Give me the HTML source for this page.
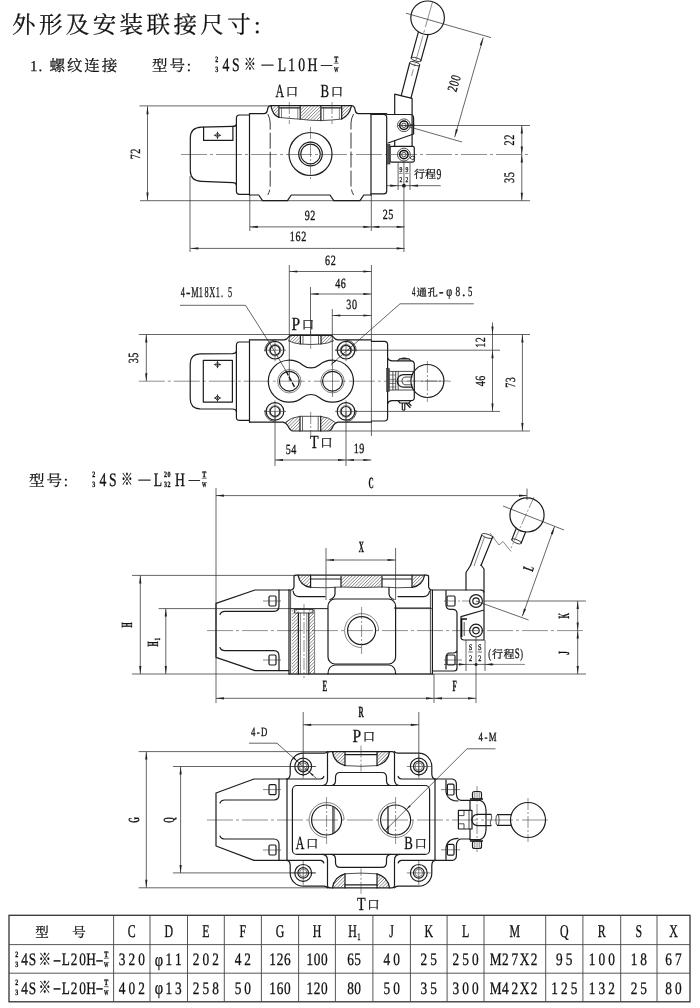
<!DOCTYPE html>
<html lang="zh"><head><meta charset="utf-8"><title>外形及安装联接尺寸</title><style>
html,body{margin:0;padding:0;background:#fff}
text{text-rendering:geometricPrecision}
svg{display:block;filter:grayscale(1)}
.o{fill:none;stroke:#1c1c1c;stroke-width:1.2;stroke-linecap:round;stroke-linejoin:round}
.o2{fill:none;stroke:#222;stroke-width:.8}
.ob{fill:none;stroke:#111;stroke-width:1.5}
.t{fill:none;stroke:#333;stroke-width:.75}
.t2{fill:none;stroke:#333;stroke-width:.6}
.sy{fill:none;stroke:#222;stroke-width:.85}
.c{fill:none;stroke:#444;stroke-width:.6;stroke-dasharray:26 3 3 3}
.dk{fill:none;stroke:#111;stroke-width:1.4;stroke-dasharray:5 1.5}
.c2{fill:none;stroke:#444;stroke-width:.6;stroke-dasharray:12 2 2 2}
.tb{fill:none;stroke:#444;stroke-width:.9}
.ds{fill:none;stroke:#222;stroke-width:.9;stroke-dasharray:16 3}
.h{stroke:#444;stroke-width:.65}
.a{fill:#222;stroke:none}
.d{font-family:"Liberation Serif","Noto Serif CJK SC",serif;fill:#111;stroke:#111;stroke-width:.3}
.b{font-weight:bold}
.kb{stroke:#111;stroke-width:.35}
.k{font-family:"Liberation Serif","Noto Serif CJK SC",serif;fill:#111;stroke:#111;stroke-width:.25}
</style></head><body>
<svg width="700" height="1008" viewBox="0 0 700 1008">
<rect x="0" y="0" width="700" height="1008" fill="#fff"/>
<!-- header text -->
<text class="k" x="12" y="33" font-size="23.5" letter-spacing="3.4">外形及安装联接尺寸:</text>
<text class="k" x="30" y="70.5" font-size="15" letter-spacing="1">1.</text>
<text class="k" x="49.5" y="70.5" font-size="15.5" letter-spacing="1.9">螺纹连接</text>
<text class="k" x="152" y="70.5" font-size="15.5" letter-spacing="1.9">型号:</text>
<text class="d" transform="translate(216.8 61.9) scale(0.75 1)" font-size="8" text-anchor="middle" font-weight="bold">2</text>
<text class="d" transform="translate(216.8 71.7) scale(0.75 1)" font-size="8" text-anchor="middle" font-weight="bold">3</text>
<text class="d" transform="translate(0 70.5) scale(0.72 1)" font-size="19" text-anchor="middle" ><tspan x="313.89 327.36">4S</tspan><tspan x="347.22" class="k kb" font-size="16.5" dy="-0.3">※</tspan><tspan x="371.53" class="k kb" font-size="16.5" dy="-0.9">—</tspan><tspan x="391.67 405.28 419.03 434.03" dy="1.2">L10H</tspan><tspan x="453.47" class="k kb" font-size="15.5" dy="-1.2">—</tspan></text>
<text class="d" transform="translate(336.2 61.9) scale(0.75 1)" font-size="8" text-anchor="middle" font-weight="bold">T</text>
<text class="d" transform="translate(336.2 71.7) scale(0.6 1)" font-size="7.5" text-anchor="middle" font-weight="bold">W</text>
<line class="t" x1="333.8" y1="63.2" x2="338.6" y2="63.2"/>
<!-- view 1 -->
<line class="t" x1="139.5" y1="105.9" x2="272" y2="105.9"/>
<line class="t" x1="140" y1="200.7" x2="530" y2="200.7"/>
<line class="t" x1="147.5" y1="106.25" x2="147.5" y2="200.5"/>
<polygon class="a" points="147.5,106.25 148.6,114.25 146.4,114.25"/>
<polygon class="a" points="147.5,200.5 146.4,192.5 148.6,192.5"/>
<text class="d" transform="translate(139.5 154) rotate(-90) scale(0.72 1)" font-size="14" text-anchor="middle"  letter-spacing="0.9" dx="0.45">72</text>
<line class="c" x1="181" y1="154.5" x2="530" y2="154.5"/>
<path class="o" d="M236.4,124.5 Q236,126.3 232.9,126.4 L201.5,127.1 Q190.3,127.5 190.3,138 V170.5 Q190.3,181 201.5,181.4 L232.9,182.6 Q236,182.8 236.4,185" />
<line class="t" x1="190" y1="176" x2="190" y2="252"/>
<path class="o" d="M203.6,127.2 V140.4 H232.9 V126.4" />
<path class="sy" d="M217.5,132.7 L219.9,135.3 L217.5,137.9 L215.1,135.3 Z M213.9,135.3 H221.1 M217.5,131.7 V138.9" />
<path class="o" d="M249.5,115 H239.5 Q236.4,115 236.4,118.2 V191 Q236.4,194.3 239.5,194.3 H249.5" />
<line class="o" x1="249.5" y1="113.75" x2="249.5" y2="195"/>
<path class="o" d="M249.5,113.6 H264.3 Q266.6,113.5 267.2,111 L267.9,108 Q268.5,105.7 271,105.6 H351.6 Q354,105.7 354.7,108 L355.4,111 Q356,113.5 358.3,113.6 H386.7" />
<path class="o" d="M249.5,195 H258.75 L262.5,200.6 H287.5 L291.25,195 H330 L333.75,200.6 H360 L363.75,195 H371" />
<line class="o" x1="371" y1="113.6" x2="371" y2="195"/>
<clipPath id="c1a"><path d="M271,105.6 H278.9 V117.4 Q272.6,115.3 271,105.6 Z"/></clipPath>
<clipPath id="c1b"><path d="M300.2,105.6 H320.9 V120.6 Q310,120.6 300.2,119.2 Z"/></clipPath>
<clipPath id="c1c"><path d="M341.7,105.6 H351.4 Q349.5,115.5 341.7,119 Z"/></clipPath>
<g clip-path="url(#c1a)">
<line class="h" x1="257" y1="118" x2="270" y2="105"/>
<line class="h" x1="260.3" y1="118" x2="273.3" y2="105"/>
<line class="h" x1="263.6" y1="118" x2="276.6" y2="105"/>
<line class="h" x1="266.9" y1="118" x2="279.9" y2="105"/>
<line class="h" x1="270.2" y1="118" x2="283.2" y2="105"/>
<line class="h" x1="273.5" y1="118" x2="286.5" y2="105"/>
<line class="h" x1="276.8" y1="118" x2="289.8" y2="105"/>
</g>
<g clip-path="url(#c1b)">
<line class="h" x1="283" y1="121" x2="299" y2="105"/>
<line class="h" x1="286.3" y1="121" x2="302.3" y2="105"/>
<line class="h" x1="289.6" y1="121" x2="305.6" y2="105"/>
<line class="h" x1="292.9" y1="121" x2="308.9" y2="105"/>
<line class="h" x1="296.2" y1="121" x2="312.2" y2="105"/>
<line class="h" x1="299.5" y1="121" x2="315.5" y2="105"/>
<line class="h" x1="302.8" y1="121" x2="318.8" y2="105"/>
<line class="h" x1="306.1" y1="121" x2="322.1" y2="105"/>
<line class="h" x1="309.4" y1="121" x2="325.4" y2="105"/>
<line class="h" x1="312.7" y1="121" x2="328.7" y2="105"/>
<line class="h" x1="316" y1="121" x2="332" y2="105"/>
<line class="h" x1="319.3" y1="121" x2="335.3" y2="105"/>
</g>
<g clip-path="url(#c1c)">
<line class="h" x1="325" y1="120" x2="340" y2="105"/>
<line class="h" x1="328.3" y1="120" x2="343.3" y2="105"/>
<line class="h" x1="331.6" y1="120" x2="346.6" y2="105"/>
<line class="h" x1="334.9" y1="120" x2="349.9" y2="105"/>
<line class="h" x1="338.2" y1="120" x2="353.2" y2="105"/>
<line class="h" x1="341.5" y1="120" x2="356.5" y2="105"/>
<line class="h" x1="344.8" y1="120" x2="359.8" y2="105"/>
<line class="h" x1="348.1" y1="120" x2="363.1" y2="105"/>
<line class="h" x1="351.4" y1="120" x2="366.4" y2="105"/>
</g>
<path class="o" d="M271,105.8 Q272.6,115.3 278.9,117.4 M351.4,105.8 Q349.5,115.5 341.7,119" />
<path class="o" d="M278.9,105.6 V117.4 M300.2,105.6 V119.2 M320.9,105.6 V120.6 M341.7,105.6 V119" />
<path class="o2" d="M278.9,117.4 Q290,118.6 300.2,119.2 Q310,120.6 320.9,120.6 Q332,120.2 341.7,119" />
<path class="o" d="M279.6,107.8 H299.6 M321.6,107.8 H341" />
<path class="t2" d="M281.5,107.8 V117.8 M297.8,107.8 V119 M323.6,107.8 V120.4 M339.4,107.8 V119.2" />
<line class="c2" x1="289.3" y1="102" x2="289.3" y2="124"/>
<line class="c2" x1="332" y1="102" x2="332" y2="124"/>
<path class="ds" d="M267.8,114 Q270,118 270.2,123 V186 Q270,191 267.8,195" />
<path class="ds" d="M353.6,114 Q351.2,118 351,123 V186 Q351.2,191 353.6,195" />
<circle class="o" cx="310.5" cy="154" r="21.5"/>
<circle class="o" cx="310.5" cy="154" r="11.8"/>
<circle class="o" cx="310.5" cy="154" r="9.8"/>
<path class="c2" d="M310.5,127 V181" />
<text class="d" x="275.6" y="97" font-size="18.5"><tspan textLength="8.6" lengthAdjust="spacingAndGlyphs">A</tspan><tspan class="k kb" font-size="12.3" dx="1.6" dy="-0.6">口</tspan></text>
<text class="d" x="320.6" y="97" font-size="18.5"><tspan textLength="8.6" lengthAdjust="spacingAndGlyphs">B</tspan><tspan class="k kb" font-size="12.3" dx="1.6" dy="-0.6">口</tspan></text>
<path class="o" d="M371,114.3 H383.5 Q386.7,114.5 386.7,117.5 V191 Q386.7,193.9 383.5,193.9 H371" />
<path class="o" d="M386.7,114.5 H410.5 Q413.6,114.7 413.6,118 V134 L388,143" />
<path class="o" d="M394.7,114.5 V94.2 L412.1,98.4 V134.5" />
<path class="o" d="M394.7,140.7 V146.4 M412.1,134.6 V146.4" />
<rect class="o" x="390" y="146.4" width="24.3" height="15.7" rx="1.5"/>
<rect x="386.7" y="144.5" width="3.3" height="19.5" fill="#555" stroke="#222" stroke-width="0.6"/>
<circle class="o2" cx="403.9" cy="125.3" r="6.4"/>
<circle class="ob" cx="403.9" cy="125.3" r="4.2"/>
<circle class="o2" cx="403.9" cy="125.3" r="2.2"/>
<circle class="o2" cx="403.9" cy="154.6" r="6.4"/>
<circle class="ob" cx="403.9" cy="154.6" r="4.2"/>
<circle class="o2" cx="403.9" cy="154.6" r="2.2"/>
<path class="ob" d="M409.5,125.3 H414.5" />
<path class="o2" d="M410,158 l3,2 l2,-3 l-3,-1 z" />
<path class="o" d="M401.2,95.7 L409.7,63 M411,98 L419.6,65.2" />
<ellipse class="o2" cx="414.8" cy="63.6" rx="5.2" ry="1.6" transform="rotate(15 414.8 63.6)"/>
<path class="o" d="M411.2,58.2 L418.3,32.3 M420.8,60.8 L428,35" />
<ellipse class="o2" cx="416.2" cy="59.5" rx="5.1" ry="1.6" transform="rotate(15 416.2 59.5)"/>
<circle class="o" cx="427.6" cy="17.8" r="16.8"/>
<line class="c" x1="432.5" y1="2" x2="411.5" y2="76"/>
<line class="t" x1="406" y1="13.2" x2="491" y2="37.6"/>
<line class="t" x1="483.3" y1="37.5" x2="454.7" y2="137.1"/>
<polygon class="a" points="483,37.5 481.85,45.49 479.73,44.89"/>
<polygon class="a" points="454.7,137.1 455.85,129.11 457.97,129.71"/>
<line class="t" x1="403.9" y1="125.3" x2="462" y2="142"/>
<text class="d" transform="translate(458.5 84.5) rotate(-73.98) scale(0.72 1)" font-size="14" text-anchor="middle"  letter-spacing="0.9" dx="0.45">200</text>
<line class="t" x1="398" y1="125.5" x2="530" y2="125.5"/>
<line class="t" x1="521.8" y1="125.5" x2="521.8" y2="200.7"/>
<polygon class="a" points="521.8,125.5 522.9,133.5 520.7,133.5"/>
<polygon class="a" points="521.8,154.5 520.7,146.5 522.9,146.5"/>
<polygon class="a" points="521.8,154.5 522.9,162.5 520.7,162.5"/>
<polygon class="a" points="521.8,200.7 520.7,192.7 522.9,192.7"/>
<text class="d" transform="translate(513.8 140) rotate(-90) scale(0.7 1)" font-size="14.5" text-anchor="middle"  letter-spacing="0.9" dx="0.45">22</text>
<text class="d" transform="translate(513.8 177.6) rotate(-90) scale(0.7 1)" font-size="14.5" text-anchor="middle"  letter-spacing="0.9" dx="0.45">35</text>
<line class="t" x1="398.1" y1="163" x2="398.1" y2="190"/>
<line class="t" x1="410" y1="163" x2="410" y2="190"/>
<line class="t" x1="403.9" y1="161" x2="403.9" y2="252"/>
<line class="t" x1="386.4" y1="185.7" x2="440.7" y2="185.7"/>
<polygon class="a" points="398.1,185.7 390.1,186.8 390.1,184.6"/>
<polygon class="a" points="410,185.7 418,184.6 418,186.8"/>
<circle class="a" cx="403.9" cy="185.7" r="1.9"/>
<text class="d" transform="translate(400.8 171.8) scale(0.75 1)" font-size="7.5" text-anchor="middle" >9</text>
<text class="d" transform="translate(400.8 181.5) scale(0.75 1)" font-size="7.5" text-anchor="middle" >2</text>
<line class="t2" x1="399" y1="173.4" x2="402.6" y2="173.4"/>
<text class="d" transform="translate(406.8 171.8) scale(0.75 1)" font-size="7.5" text-anchor="middle" >9</text>
<text class="d" transform="translate(406.8 181.5) scale(0.75 1)" font-size="7.5" text-anchor="middle" >2</text>
<line class="t2" x1="405" y1="173.4" x2="408.6" y2="173.4"/>
<text class="k" x="414" y="178.2" font-size="11">行程<tspan class="d" font-size="15" dy="0.8" dx="0.4" textLength="4.8" lengthAdjust="spacingAndGlyphs">9</tspan></text>
<line class="t" x1="249.8" y1="195" x2="249.8" y2="231"/>
<line class="t" x1="371.3" y1="195" x2="371.3" y2="231"/>
<line class="t" x1="249.8" y1="226.9" x2="404.7" y2="226.9"/>
<polygon class="a" points="249.8,226.9 257.8,225.8 257.8,228"/>
<polygon class="a" points="371.3,226.9 363.3,228 363.3,225.8"/>
<polygon class="a" points="371.3,226.9 379.3,225.8 379.3,228"/>
<polygon class="a" points="404.7,226.9 396.7,228 396.7,225.8"/>
<text class="d" transform="translate(310 219.5) scale(0.72 1)" font-size="14" text-anchor="middle"  letter-spacing="0.9" dx="0.45">92</text>
<text class="d" transform="translate(388 219) scale(0.72 1)" font-size="14" text-anchor="middle"  letter-spacing="0.9" dx="0.45">25</text>
<line class="t" x1="190.4" y1="248.4" x2="404.7" y2="248.4"/>
<polygon class="a" points="190.4,248.4 198.4,247.3 198.4,249.5"/>
<polygon class="a" points="404.7,248.4 396.7,249.5 396.7,247.3"/>
<text class="d" transform="translate(298 241) scale(0.72 1)" font-size="14" text-anchor="middle"  letter-spacing="0.9" dx="0.45">162</text>
<!-- view 2 -->
<line class="t" x1="289.3" y1="265" x2="289.3" y2="381"/>
<line class="t" x1="371.4" y1="265" x2="371.4" y2="436"/>
<line class="t" x1="310.5" y1="287" x2="310.5" y2="336"/>
<line class="t" x1="332.3" y1="309" x2="332.3" y2="366"/>
<line class="t" x1="289.3" y1="271.5" x2="371.4" y2="271.5"/>
<polygon class="a" points="289.3,271.5 297.3,270.4 297.3,272.6"/>
<polygon class="a" points="371.4,271.5 363.4,272.6 363.4,270.4"/>
<text class="d" transform="translate(330.4 264.5) scale(0.72 1)" font-size="14" text-anchor="middle"  letter-spacing="0.9" dx="0.45">62</text>
<line class="t" x1="310.5" y1="294" x2="371.4" y2="294"/>
<polygon class="a" points="310.5,294 318.5,292.9 318.5,295.1"/>
<polygon class="a" points="371.4,294 363.4,295.1 363.4,292.9"/>
<text class="d" transform="translate(340.5 287.5) scale(0.72 1)" font-size="14" text-anchor="middle"  letter-spacing="0.9" dx="0.45">46</text>
<line class="t" x1="332.3" y1="315.5" x2="371.4" y2="315.5"/>
<polygon class="a" points="332.3,315.5 340.3,314.4 340.3,316.6"/>
<polygon class="a" points="371.4,315.5 363.4,316.6 363.4,314.4"/>
<text class="d" transform="translate(351.6 308.5) scale(0.72 1)" font-size="14" text-anchor="middle"  letter-spacing="0.9" dx="0.45">30</text>
<text class="d" transform="translate(0 297.4) scale(0.55 1)" font-size="15" text-anchor="middle" ><tspan x="332.36">4</tspan><tspan x="342.36" textLength="8" lengthAdjust="spacingAndGlyphs">-</tspan><tspan x="354.18 365.27 375.64 386 396 403.64 418.18">M18X1.5</tspan></text>
<line class="t" x1="180" y1="305.3" x2="245.5" y2="305.3"/>
<line class="t" x1="245.5" y1="305.3" x2="270.5" y2="344.5"/>
<line class="t" x1="270.5" y1="344.5" x2="286" y2="371"/>
<line class="dk" x1="286" y1="371" x2="295.3" y2="388.4"/>
<text class="d" y="296.4" font-size="13.8" letter-spacing="0.5"><tspan x="412" textLength="3.6" lengthAdjust="spacingAndGlyphs">4</tspan><tspan x="416.6" class="k kb" font-size="10.3" dy="-0.4">通孔</tspan><tspan x="438.9" dy="0.4" textLength="5" lengthAdjust="spacingAndGlyphs">-</tspan><tspan x="446.3" textLength="6.3" lengthAdjust="spacingAndGlyphs">φ</tspan><tspan x="455.4" textLength="5" lengthAdjust="spacingAndGlyphs">8</tspan><tspan x="462">.</tspan><tspan x="468" textLength="4.6" lengthAdjust="spacingAndGlyphs">5</tspan></text>
<line class="t" x1="400" y1="303.8" x2="473.8" y2="303.8"/>
<line class="t" x1="400" y1="303.8" x2="331.3" y2="364.4"/>
<polygon class="a" points="331.3,364.4 335.2,359.76 336.39,361.11"/>
<text class="d" x="291.5" y="329.5" font-size="18.5"><tspan textLength="8.6" lengthAdjust="spacingAndGlyphs">P</tspan><tspan class="k kb" font-size="12.3" dx="1.6" dy="-0.6">口</tspan></text>
<line class="t" x1="138.8" y1="334.5" x2="530" y2="334.5"/>
<line class="c" x1="138.8" y1="381.2" x2="452" y2="381.2"/>
<line class="t" x1="146.3" y1="334.5" x2="146.3" y2="381.2"/>
<polygon class="a" points="146.3,334.5 147.4,342.5 145.2,342.5"/>
<polygon class="a" points="146.3,381.2 145.2,373.2 147.4,373.2"/>
<text class="d" transform="translate(138 358) rotate(-90) scale(0.72 1)" font-size="14" text-anchor="middle"  letter-spacing="0.9" dx="0.45">35</text>
<path class="o" d="M236.4,351.3 Q236,353.3 232.5,353.6 L200,353.8 Q190.2,354 190.2,364 V398.5 Q190.2,408.5 200,408.8 L232.5,409 Q236,409.3 236.4,411.3" />
<rect class="o" x="203.3" y="360.4" width="29.1" height="41.7" rx="0"/>
<path class="sy" d="M217.5,362 L219.9,364.6 L217.5,367.2 L215.1,364.6 Z M213.9,364.6 H221.1 M217.5,361 V368.2" />
<path class="sy" d="M217.5,395.4 L219.9,398 L217.5,400.6 L215.1,398 Z M213.9,398 H221.1 M217.5,394.4 V401.6" />
<path class="o" d="M249.5,342 H239.5 Q236.4,342 236.4,345.2 V417.2 Q236.4,420.4 239.5,420.4 H249.5" />
<line class="o" x1="249.5" y1="339.9" x2="249.5" y2="422.2"/>
<path class="o" d="M249.5,339.9 H284 Q287,339.6 288.3,337.3 Q289.3,335.5 292,335.4 H330 Q332.5,335.5 333.5,337.3 Q334.8,339.6 338,339.9 H371.4" />
<path class="o" d="M249.5,422.2 H283 Q286,422.6 287.7,425.5 Q290,430.8 293,431 H328.4 Q331.5,430.8 333.3,425.5 Q335,422.6 338,422.2 H371.4" />
<path class="o" d="M371.4,341.4 H384.4 Q387.6,341.5 387.6,344.6 V417.8 Q387.6,421 384.4,421 H371.4" />
<clipPath id="c2a"><path d="M290.5,335.6 H300.4 V344 Q294,343.5 288,340.4 Q289.3,336 290.5,335.6 Z"/></clipPath>
<clipPath id="c2b"><path d="M321,335.6 H331.5 Q332.8,336 334,340.4 Q328,343.5 321,344 Z"/></clipPath>
<g clip-path="url(#c2a)">
<line class="h" x1="276" y1="345" x2="286" y2="335"/>
<line class="h" x1="279.3" y1="345" x2="289.3" y2="335"/>
<line class="h" x1="282.6" y1="345" x2="292.6" y2="335"/>
<line class="h" x1="285.9" y1="345" x2="295.9" y2="335"/>
<line class="h" x1="289.2" y1="345" x2="299.2" y2="335"/>
<line class="h" x1="292.5" y1="345" x2="302.5" y2="335"/>
<line class="h" x1="295.8" y1="345" x2="305.8" y2="335"/>
<line class="h" x1="299.1" y1="345" x2="309.1" y2="335"/>
</g>
<g clip-path="url(#c2b)">
<line class="h" x1="310" y1="345" x2="320" y2="335"/>
<line class="h" x1="313.3" y1="345" x2="323.3" y2="335"/>
<line class="h" x1="316.6" y1="345" x2="326.6" y2="335"/>
<line class="h" x1="319.9" y1="345" x2="329.9" y2="335"/>
<line class="h" x1="323.2" y1="345" x2="333.2" y2="335"/>
<line class="h" x1="326.5" y1="345" x2="336.5" y2="335"/>
<line class="h" x1="329.8" y1="345" x2="339.8" y2="335"/>
<line class="h" x1="333.1" y1="345" x2="343.1" y2="335"/>
</g>
<path class="o" d="M300.4,335.6 V344 M321,335.6 V344" />
<path class="o2" d="M288,340.6 Q294,343.6 300.4,344 Q310.7,345 321,344 Q328,343.6 334,340.6" />
<path class="t" d="M303,335.6 V344.2 M318.5,335.6 V344.2" />
<line class="c" x1="310.7" y1="331" x2="310.7" y2="349"/>
<clipPath id="c2c"><path d="M291,431 H300 V416.3 Q291,417.3 285.6,422.3 Q289,430 291,431 Z"/></clipPath>
<clipPath id="c2d"><path d="M320.7,431 H330 Q332,430 335,422.3 Q329.5,417.3 320.7,416.3 Z"/></clipPath>
<g clip-path="url(#c2c)">
<line class="h" x1="267" y1="432" x2="284" y2="415"/>
<line class="h" x1="270.3" y1="432" x2="287.3" y2="415"/>
<line class="h" x1="273.6" y1="432" x2="290.6" y2="415"/>
<line class="h" x1="276.9" y1="432" x2="293.9" y2="415"/>
<line class="h" x1="280.2" y1="432" x2="297.2" y2="415"/>
<line class="h" x1="283.5" y1="432" x2="300.5" y2="415"/>
<line class="h" x1="286.8" y1="432" x2="303.8" y2="415"/>
<line class="h" x1="290.1" y1="432" x2="307.1" y2="415"/>
<line class="h" x1="293.4" y1="432" x2="310.4" y2="415"/>
<line class="h" x1="296.7" y1="432" x2="313.7" y2="415"/>
<line class="h" x1="300" y1="432" x2="317" y2="415"/>
</g>
<g clip-path="url(#c2d)">
<line class="h" x1="303" y1="432" x2="320" y2="415"/>
<line class="h" x1="306.3" y1="432" x2="323.3" y2="415"/>
<line class="h" x1="309.6" y1="432" x2="326.6" y2="415"/>
<line class="h" x1="312.9" y1="432" x2="329.9" y2="415"/>
<line class="h" x1="316.2" y1="432" x2="333.2" y2="415"/>
<line class="h" x1="319.5" y1="432" x2="336.5" y2="415"/>
<line class="h" x1="322.8" y1="432" x2="339.8" y2="415"/>
<line class="h" x1="326.1" y1="432" x2="343.1" y2="415"/>
<line class="h" x1="329.4" y1="432" x2="346.4" y2="415"/>
<line class="h" x1="332.7" y1="432" x2="349.7" y2="415"/>
</g>
<path class="o" d="M300,431 V416.3 M320.7,431 V416.3" />
<path class="o2" d="M285.6,422.3 Q291,417.3 300,416.3 H320.7 Q329.5,417.3 335,422.3" />
<path class="t" d="M302.5,431 V416.3 M318.2,431 V416.3" />
<line class="c2" x1="310.7" y1="412" x2="310.7" y2="436"/>
<circle class="o" cx="275" cy="350.2" r="8.8"/>
<circle class="o" cx="275" cy="350.2" r="4.9"/>
<circle class="t2" cx="275" cy="350.2" r="5.8"/>
<line class="t2" x1="264" y1="350.2" x2="286" y2="350.2"/>
<line class="t2" x1="275" y1="339.2" x2="275" y2="361.2"/>
<circle class="o" cx="275" cy="411.4" r="8.8"/>
<circle class="o" cx="275" cy="411.4" r="4.9"/>
<circle class="t2" cx="275" cy="411.4" r="5.8"/>
<line class="t2" x1="264" y1="411.4" x2="286" y2="411.4"/>
<line class="t2" x1="275" y1="400.4" x2="275" y2="422.4"/>
<circle class="o" cx="346" cy="350.2" r="8.8"/>
<circle class="o" cx="346" cy="350.2" r="4.9"/>
<circle class="t2" cx="346" cy="350.2" r="5.8"/>
<line class="t2" x1="335" y1="350.2" x2="357" y2="350.2"/>
<line class="t2" x1="346" y1="339.2" x2="346" y2="361.2"/>
<circle class="o" cx="346" cy="411.4" r="8.8"/>
<circle class="o" cx="346" cy="411.4" r="4.9"/>
<circle class="t2" cx="346" cy="411.4" r="5.8"/>
<line class="t2" x1="335" y1="411.4" x2="357" y2="411.4"/>
<line class="t2" x1="346" y1="400.4" x2="346" y2="422.4"/>
<path class="o2" d="M265,351.5 A10,10 0 0 1 274,340.2 M347,340.2 A10,10 0 0 1 356,351.5 M265,410 A10,10 0 0 0 274,421.4 M347,421.4 A10,10 0 0 0 356,410" />
<path class="o" d="M302.58,364.94 A13.15,13.15 0 0 0 319.22,364.94 A21,21 0 1 1 319.22,397.46 A13.15,13.15 0 0 0 302.58,397.46 A21,21 0 1 1 302.58,364.94 Z" />
<circle class="o" cx="289.3" cy="381.2" r="9.9"/>
<circle class="t2" cx="289.3" cy="381.2" r="11.7"/>
<circle class="o" cx="332.5" cy="381.2" r="9.9"/>
<circle class="t2" cx="332.5" cy="381.2" r="11.7"/>
<line class="t2" x1="332.5" y1="366" x2="332.5" y2="397"/>
<line class="t" x1="275" y1="411.4" x2="275" y2="466"/>
<line class="t" x1="346" y1="411.4" x2="346" y2="466"/>
<line class="t" x1="275" y1="460" x2="371.4" y2="460"/>
<polygon class="a" points="275,460 283,458.9 283,461.1"/>
<polygon class="a" points="346,460 338,461.1 338,458.9"/>
<polygon class="a" points="346,460 354,458.9 354,461.1"/>
<polygon class="a" points="371.4,460 363.4,461.1 363.4,458.9"/>
<text class="d" transform="translate(291 454) scale(0.72 1)" font-size="14" text-anchor="middle"  letter-spacing="0.9" dx="0.45">54</text>
<text class="d" transform="translate(359 453) scale(0.72 1)" font-size="14" text-anchor="middle"  letter-spacing="0.9" dx="0.45">19</text>
<text class="d" x="310" y="448" font-size="18.5"><tspan textLength="8.6" lengthAdjust="spacingAndGlyphs">T</tspan><tspan class="k kb" font-size="12.3" dx="1.6" dy="-0.6">口</tspan></text>
<line class="t" x1="335" y1="350.2" x2="500" y2="350.2"/>
<line class="t" x1="355.5" y1="411.4" x2="500" y2="411.4"/>
<line class="t" x1="492.5" y1="322.5" x2="492.5" y2="411.4"/>
<polygon class="a" points="492.5,334.5 491.4,326.5 493.6,326.5"/>
<polygon class="a" points="492.5,350.2 493.6,358.2 491.4,358.2"/>
<polygon class="a" points="492.5,411.4 491.4,403.4 493.6,403.4"/>
<text class="d" transform="translate(484.5 342.5) rotate(-90) scale(0.72 1)" font-size="14" text-anchor="middle"  letter-spacing="0.9" dx="0.45">12</text>
<text class="d" transform="translate(484.5 381) rotate(-90) scale(0.72 1)" font-size="14" text-anchor="middle"  letter-spacing="0.9" dx="0.45">46</text>
<line class="t" x1="330" y1="431" x2="530" y2="431"/>
<line class="t" x1="522.4" y1="334.5" x2="522.4" y2="431"/>
<polygon class="a" points="522.4,334.5 523.5,342.5 521.3,342.5"/>
<polygon class="a" points="522.4,431 521.3,423 523.5,423"/>
<text class="d" transform="translate(514.5 382.5) rotate(-90) scale(0.72 1)" font-size="14" text-anchor="middle"  letter-spacing="0.9" dx="0.45">73</text>
<path class="o" d="M387.6,358 Q388.5,360.7 392,360.9 H411 Q414.3,361 414.3,364.5 V397.5 Q414.3,400.7 411,400.7 H392 Q388.5,401 387.6,403.8" />
<rect x="386.6" y="368.6" width="2.8" height="22.8" fill="#444" stroke="#222" stroke-width="0.5"/>
<path class="o2" d="M389.4,371.4 H413.5 M389.4,390 H413.5 M392.9,371.4 V390 M395.7,371.4 V390 M398.2,371.4 V390" />
<path class="t2" d="M389.4,375 H395.7 M389.4,379.3 H395.7 M389.4,383.5 H395.7 M389.4,387 H395.7" />
<path class="o" d="M412.5,374.6 H403.5 A6.3,6.3 0 0 0 403.5,387.2 H412.5" />
<path class="o2" d="M412.5,377 H405 A4,4 0 0 0 405,384.8 H412.5" />
<path class="o" d="M398,360.7 L399.5,358.8 H409 L410.7,360.7 M401,358.8 Q404,357.2 407.5,358.8" />
<path class="o" d="M398,400.7 L400,403 H409 L410.7,400.7 M402.3,403 V409.5 Q403.5,411 404.8,409.5 V403 M406,403 L410,407.5 M408.5,403 L411,405.5" />
<circle class="o" cx="427.4" cy="381" r="16.5"/>
<line class="c2" x1="427.4" y1="361" x2="427.4" y2="402"/>
<line class="c2" x1="407" y1="381" x2="448" y2="381"/>
<!-- view 3 -->
<text class="k" x="29" y="485.5" font-size="15.5" letter-spacing="1.9">型号:</text>
<text class="d" transform="translate(93.8 476.9) scale(0.75 1)" font-size="8" text-anchor="middle" font-weight="bold">2</text>
<text class="d" transform="translate(93.8 486.7) scale(0.75 1)" font-size="8" text-anchor="middle" font-weight="bold">3</text>
<text class="d" transform="translate(167.5 476.9) scale(0.75 1)" font-size="8" text-anchor="middle" font-weight="bold" letter-spacing="0.8">20</text>
<text class="d" transform="translate(167.5 486.7) scale(0.75 1)" font-size="8" text-anchor="middle" font-weight="bold" letter-spacing="0.8">32</text>
<text class="d" transform="translate(0 485.5) scale(0.72 1)" font-size="19" text-anchor="middle" ><tspan x="143.06 156.53">4S</tspan><tspan x="176.39" class="k kb" font-size="16.5" dy="-0.3">※</tspan><tspan x="200.69" class="k kb" font-size="16.5" dy="-0.9">—</tspan><tspan x="219.44" dy="1.2">L</tspan><tspan x="250">H</tspan><tspan x="269.86" class="k kb" font-size="15.5" dy="-1.2">—</tspan></text>
<text class="d" transform="translate(204.3 476.9) scale(0.75 1)" font-size="8" text-anchor="middle" font-weight="bold">T</text>
<text class="d" transform="translate(204.3 486.7) scale(0.6 1)" font-size="7.5" text-anchor="middle" font-weight="bold">W</text>
<line class="t" x1="201.9" y1="478.2" x2="206.7" y2="478.2"/>
<line class="t" x1="216" y1="488" x2="216" y2="703"/>
<line class="t" x1="527" y1="488.6" x2="527" y2="500"/>
<line class="t" x1="216" y1="495.6" x2="527" y2="495.6"/>
<polygon class="a" points="216,495.6 224,494.5 224,496.7"/>
<polygon class="a" points="527,495.6 519,496.7 519,494.5"/>
<text class="d b" transform="translate(371 482.5) scale(0.46 1)" y="5.13" font-size="15.5" text-anchor="middle" >C</text>
<line class="t" x1="132" y1="575.4" x2="296" y2="575.4"/>
<line class="t" x1="132" y1="674" x2="586" y2="674"/>
<line class="t" x1="140.3" y1="575.4" x2="140.3" y2="674"/>
<polygon class="a" points="140.3,575.4 141.4,583.4 139.2,583.4"/>
<polygon class="a" points="140.3,674 139.2,666 141.4,666"/>
<text class="d b" transform="translate(127 625) rotate(-90) scale(0.42 1)" y="5.13" font-size="15.5" text-anchor="middle" >H</text>
<line class="t" x1="158.6" y1="608.6" x2="328" y2="608.6"/>
<line class="t" x1="395.6" y1="608.6" x2="432" y2="608.6"/>
<line class="t" x1="165.8" y1="608.6" x2="165.8" y2="674"/>
<polygon class="a" points="165.8,608.6 166.9,616.6 164.7,616.6"/>
<polygon class="a" points="165.8,674 164.7,666 166.9,666"/>
<text class="d b" transform="translate(153 644) rotate(-90) scale(0.42 1)" y="5.13" font-size="15.5" text-anchor="middle" >H</text>
<text class="d b" transform="translate(157 639) rotate(-90) scale(0.7 1)" y="2.65" font-size="8" text-anchor="middle" >1</text>
<line class="c" x1="207" y1="630.6" x2="586" y2="630.6"/>
<path class="o" d="M289,590 H255 L216,603.4 V657.4 L255,670.6 H289" />
<path class="o" d="M220,614.5 Q221,611.4 225,611.4 H274 Q279,611.2 279,606 V590" />
<path class="o" d="M220,647.5 Q221,650.6 225,650.6 H274 Q279,650.8 279,656 V670.6" />
<rect class="o" x="269" y="596" width="7" height="10" rx="1.2"/>
<line class="t2" x1="263" y1="601" x2="281" y2="601"/>
<rect class="o" x="269" y="655" width="7" height="10" rx="1.2"/>
<line class="t2" x1="263" y1="660" x2="281" y2="660"/>
<line class="o" x1="289" y1="590" x2="289" y2="674"/>
<line class="o2" x1="290.6" y1="590" x2="290.6" y2="674"/>
<path class="o" d="M289,590 H291 Q294,589.5 294,586 V577 Q294,575.2 296,575.2 H426.6 Q428.6,575.2 428.6,577 V586 Q428.6,589.5 431.6,590 H481" />
<line class="o" x1="289" y1="674" x2="432.4" y2="674"/>
<clipPath id="c3a"><path d="M298,575.2 H310.6 V587.4 Q300,586 298,575.2 Z"/></clipPath>
<clipPath id="c3b"><path d="M342.5,575.2 H380.5 Q382,575.2 382,577 V587 Q361,588 341,587 V577 Q341,575.2 342.5,575.2 Z"/></clipPath>
<clipPath id="c3c"><path d="M412,575.2 H424.6 Q422.6,586 412,587.4 Z"/></clipPath>
<g clip-path="url(#c3a)">
<line class="h" x1="284" y1="588" x2="297" y2="575"/>
<line class="h" x1="287.3" y1="588" x2="300.3" y2="575"/>
<line class="h" x1="290.6" y1="588" x2="303.6" y2="575"/>
<line class="h" x1="293.9" y1="588" x2="306.9" y2="575"/>
<line class="h" x1="297.2" y1="588" x2="310.2" y2="575"/>
<line class="h" x1="300.5" y1="588" x2="313.5" y2="575"/>
<line class="h" x1="303.8" y1="588" x2="316.8" y2="575"/>
<line class="h" x1="307.1" y1="588" x2="320.1" y2="575"/>
<line class="h" x1="310.4" y1="588" x2="323.4" y2="575"/>
</g>
<g clip-path="url(#c3b)">
<line class="h" x1="327" y1="588" x2="340" y2="575"/>
<line class="h" x1="330.3" y1="588" x2="343.3" y2="575"/>
<line class="h" x1="333.6" y1="588" x2="346.6" y2="575"/>
<line class="h" x1="336.9" y1="588" x2="349.9" y2="575"/>
<line class="h" x1="340.2" y1="588" x2="353.2" y2="575"/>
<line class="h" x1="343.5" y1="588" x2="356.5" y2="575"/>
<line class="h" x1="346.8" y1="588" x2="359.8" y2="575"/>
<line class="h" x1="350.1" y1="588" x2="363.1" y2="575"/>
<line class="h" x1="353.4" y1="588" x2="366.4" y2="575"/>
<line class="h" x1="356.7" y1="588" x2="369.7" y2="575"/>
<line class="h" x1="360" y1="588" x2="373" y2="575"/>
<line class="h" x1="363.3" y1="588" x2="376.3" y2="575"/>
<line class="h" x1="366.6" y1="588" x2="379.6" y2="575"/>
<line class="h" x1="369.9" y1="588" x2="382.9" y2="575"/>
<line class="h" x1="373.2" y1="588" x2="386.2" y2="575"/>
<line class="h" x1="376.5" y1="588" x2="389.5" y2="575"/>
<line class="h" x1="379.8" y1="588" x2="392.8" y2="575"/>
</g>
<g clip-path="url(#c3c)">
<line class="h" x1="398" y1="588" x2="411" y2="575"/>
<line class="h" x1="401.3" y1="588" x2="414.3" y2="575"/>
<line class="h" x1="404.6" y1="588" x2="417.6" y2="575"/>
<line class="h" x1="407.9" y1="588" x2="420.9" y2="575"/>
<line class="h" x1="411.2" y1="588" x2="424.2" y2="575"/>
<line class="h" x1="414.5" y1="588" x2="427.5" y2="575"/>
<line class="h" x1="417.8" y1="588" x2="430.8" y2="575"/>
<line class="h" x1="421.1" y1="588" x2="434.1" y2="575"/>
<line class="h" x1="424.4" y1="588" x2="437.4" y2="575"/>
</g>
<path class="o" d="M298,575.2 Q300,586 310.6,587.4 M424.6,575.2 Q422.6,586 412,587.4" />
<path class="o" d="M310.6,575.2 V587.4 M341,576.5 V587 M382,576.5 V587 M412,575.2 V587.4" />
<path class="o2" d="M310.6,587.4 Q325,588.3 341,587 Q361,588 382,587 Q398,588.3 412,587.4" />
<path class="o" d="M311,579 H340.5 M382.5,579 H411.5" />
<path class="o" d="M293,591 Q294,596.4 299,596.6 H325" />
<path class="o" d="M429.6,591 Q428.6,596.4 423.6,596.6 H398" />
<path class="o" d="M335,587.4 V594 Q334.5,598 330,599.5 M389,587.4 V594 Q389.5,598 394,599.5" />
<rect class="o" x="328" y="599" width="67.6" height="65" rx="7"/>
<path class="o" d="M328,674 Q328,666 335,665 H389 Q395.6,666 395.6,674" />
<line class="t" x1="326" y1="548" x2="326" y2="600"/>
<line class="t" x1="395.6" y1="548" x2="395.6" y2="600"/>
<line class="t" x1="326" y1="560" x2="395.6" y2="560"/>
<polygon class="a" points="326,560 334,558.9 334,561.1"/>
<polygon class="a" points="395.6,560 387.6,561.1 387.6,558.9"/>
<text class="d b" transform="translate(361.4 547) scale(0.46 1)" y="5.13" font-size="15.5" text-anchor="middle" >X</text>
<circle class="o" cx="361.6" cy="630.6" r="14"/>
<path class="t2" d="M378.6,630.6 A17,17 0 1 0 361.6,647.6" />
<line class="c2" x1="361.6" y1="607" x2="361.6" y2="654"/>
<clipPath id="c3d"><path d="M292,609.4 H298.4 V674 H292 Z"/></clipPath>
<clipPath id="c3e"><path d="M308.8,609.4 H314.6 V674 H308.8 Z"/></clipPath>
<g clip-path="url(#c3d)">
<line class="h" x1="226" y1="674" x2="291" y2="609"/>
<line class="h" x1="229.3" y1="674" x2="294.3" y2="609"/>
<line class="h" x1="232.6" y1="674" x2="297.6" y2="609"/>
<line class="h" x1="235.9" y1="674" x2="300.9" y2="609"/>
<line class="h" x1="239.2" y1="674" x2="304.2" y2="609"/>
<line class="h" x1="242.5" y1="674" x2="307.5" y2="609"/>
<line class="h" x1="245.8" y1="674" x2="310.8" y2="609"/>
<line class="h" x1="249.1" y1="674" x2="314.1" y2="609"/>
<line class="h" x1="252.4" y1="674" x2="317.4" y2="609"/>
<line class="h" x1="255.7" y1="674" x2="320.7" y2="609"/>
<line class="h" x1="259" y1="674" x2="324" y2="609"/>
<line class="h" x1="262.3" y1="674" x2="327.3" y2="609"/>
<line class="h" x1="265.6" y1="674" x2="330.6" y2="609"/>
<line class="h" x1="268.9" y1="674" x2="333.9" y2="609"/>
<line class="h" x1="272.2" y1="674" x2="337.2" y2="609"/>
<line class="h" x1="275.5" y1="674" x2="340.5" y2="609"/>
<line class="h" x1="278.8" y1="674" x2="343.8" y2="609"/>
<line class="h" x1="282.1" y1="674" x2="347.1" y2="609"/>
<line class="h" x1="285.4" y1="674" x2="350.4" y2="609"/>
<line class="h" x1="288.7" y1="674" x2="353.7" y2="609"/>
<line class="h" x1="292" y1="674" x2="357" y2="609"/>
<line class="h" x1="295.3" y1="674" x2="360.3" y2="609"/>
<line class="h" x1="298.6" y1="674" x2="363.6" y2="609"/>
</g>
<g clip-path="url(#c3e)">
<line class="h" x1="243" y1="674" x2="308" y2="609"/>
<line class="h" x1="246.3" y1="674" x2="311.3" y2="609"/>
<line class="h" x1="249.6" y1="674" x2="314.6" y2="609"/>
<line class="h" x1="252.9" y1="674" x2="317.9" y2="609"/>
<line class="h" x1="256.2" y1="674" x2="321.2" y2="609"/>
<line class="h" x1="259.5" y1="674" x2="324.5" y2="609"/>
<line class="h" x1="262.8" y1="674" x2="327.8" y2="609"/>
<line class="h" x1="266.1" y1="674" x2="331.1" y2="609"/>
<line class="h" x1="269.4" y1="674" x2="334.4" y2="609"/>
<line class="h" x1="272.7" y1="674" x2="337.7" y2="609"/>
<line class="h" x1="276" y1="674" x2="341" y2="609"/>
<line class="h" x1="279.3" y1="674" x2="344.3" y2="609"/>
<line class="h" x1="282.6" y1="674" x2="347.6" y2="609"/>
<line class="h" x1="285.9" y1="674" x2="350.9" y2="609"/>
<line class="h" x1="289.2" y1="674" x2="354.2" y2="609"/>
<line class="h" x1="292.5" y1="674" x2="357.5" y2="609"/>
<line class="h" x1="295.8" y1="674" x2="360.8" y2="609"/>
<line class="h" x1="299.1" y1="674" x2="364.1" y2="609"/>
<line class="h" x1="302.4" y1="674" x2="367.4" y2="609"/>
<line class="h" x1="305.7" y1="674" x2="370.7" y2="609"/>
<line class="h" x1="309" y1="674" x2="374" y2="609"/>
<line class="h" x1="312.3" y1="674" x2="377.3" y2="609"/>
<line class="h" x1="315.6" y1="674" x2="380.6" y2="609"/>
</g>
<path class="o" d="M298.4,613 V674 M308.8,613 V674" />
<path class="t2" d="M300.4,613 V674 M306.8,613 V674" />
<rect class="o2" x="294.6" y="609.4" width="18.4" height="3.6" rx="0"/>
<path class="t2" d="M314.6,609.4 V674" />
<line class="c2" x1="304" y1="604" x2="304" y2="678"/>
<line class="o2" x1="290.6" y1="608.6" x2="328" y2="608.6"/>
<line class="o" x1="432.4" y1="590" x2="432.4" y2="674"/>
<line class="o2" x1="430.4" y1="590" x2="430.4" y2="674"/>
<line class="o" x1="394.4" y1="608" x2="430.4" y2="608"/>
<path class="o" d="M446,590.5 V605 Q446.2,609 450,609.4 H453 Q456.6,609.6 457,613 V668 Q457,671 454,671 H432.4 M457,650 Q456.6,653 453,653 H450 Q446.2,653.2 446,657 V669" />
<rect class="o" x="447" y="596" width="8" height="10" rx="1.2"/>
<rect class="o" x="447" y="655" width="8" height="10" rx="1.2"/>
<line class="c2" x1="444" y1="601" x2="470" y2="601"/>
<line class="t2" x1="444" y1="660" x2="462" y2="660"/>
<path class="o" d="M481,590 Q484,590.2 484,593 V610 L461,616.6 V637.5 Q461.2,640 464,640 H484 V610" />
<path class="ob" d="M467,619 H461.6 V637" />
<path class="o2" d="M464.2,622 V636" />
<path class="o" d="M466,590 V572.5 L470.5,565.5 M484,592 V569 L481,565" />
<circle class="o" cx="476" cy="601" r="6.4"/>
<circle class="o" cx="476" cy="601" r="3.2"/>
<circle class="o" cx="476" cy="630.6" r="6.4"/>
<circle class="o" cx="476" cy="630.6" r="3.2"/>
<path class="o" d="M470.5,565.5 L481.6,535.5 M481,565.5 L492.8,536.5" />
<ellipse class="o2" cx="487.2" cy="536" rx="5.8" ry="1.8" transform="rotate(18 487.2 536)"/>
<path class="t2" d="M474,566 L484.5,537" />
<path class="t2" d="M490,533 L499,545 L503,541.5 L511,551.5" />
<path class="o" d="M511.8,539.6 L516.3,528.2 M521.1,543.2 L525.6,532" />
<ellipse class="o2" cx="516.5" cy="541.4" rx="5" ry="1.7" transform="rotate(21.7 516.5 541.4)"/>
<circle class="o" cx="527" cy="514.9" r="17.1"/>
<line class="t" x1="503" y1="506" x2="564" y2="530"/>
<line class="t" x1="476" y1="601" x2="528.6" y2="620"/>
<line class="t" x1="554.5" y1="526.5" x2="522.3" y2="616.3"/>
<polygon class="a" points="554.5,526.5 552.84,534.4 550.76,533.66"/>
<polygon class="a" points="522.3,616.3 523.96,608.4 526.04,609.14"/>
<text class="d b" transform="translate(528.5 568) rotate(-70.27) scale(0.46 1)" y="5.13" font-size="15.5" text-anchor="middle" >L</text>
<line class="c2" x1="534" y1="497" x2="511" y2="548"/>
<line class="t" x1="484" y1="601" x2="586" y2="601"/>
<line class="t" x1="577.7" y1="601" x2="577.7" y2="674"/>
<polygon class="a" points="577.7,601 578.8,609 576.6,609"/>
<polygon class="a" points="577.7,630.6 576.6,622.6 578.8,622.6"/>
<polygon class="a" points="577.7,630.6 578.8,638.6 576.6,638.6"/>
<polygon class="a" points="577.7,674 576.6,666 578.8,666"/>
<text class="d b" transform="translate(564.3 615.7) rotate(-90) scale(0.46 1)" y="5.13" font-size="15.5" text-anchor="middle" >K</text>
<text class="d b" transform="translate(564.3 652.9) rotate(-90) scale(0.46 1)" y="5.13" font-size="15.5" text-anchor="middle" >J</text>
<line class="t" x1="466" y1="640" x2="466" y2="671"/>
<line class="t" x1="485" y1="640" x2="485" y2="671"/>
<line class="t" x1="476" y1="637" x2="476" y2="703"/>
<line class="t" x1="444" y1="664.4" x2="493" y2="664.4"/>
<line class="t2" x1="493" y1="664.4" x2="525" y2="664.4"/>
<polygon class="a" points="466,664.4 459,665.5 459,663.3"/>
<polygon class="a" points="485,664.4 492,663.3 492,665.5"/>
<circle class="a" cx="476" cy="664.4" r="1.5"/>
<circle class="a" cx="492.5" cy="664.4" r="0.9"/>
<text class="d" transform="translate(470.6 650) scale(0.75 1)" font-size="8.5" text-anchor="middle" >S</text>
<text class="d" transform="translate(470.6 661) scale(0.75 1)" font-size="8.5" text-anchor="middle" >2</text>
<line class="t" x1="468.4" y1="652" x2="472.8" y2="652"/>
<text class="d" transform="translate(479.8 650) scale(0.75 1)" font-size="8.5" text-anchor="middle" >S</text>
<text class="d" transform="translate(479.8 661) scale(0.75 1)" font-size="8.5" text-anchor="middle" >2</text>
<line class="t" x1="477.6" y1="652" x2="482" y2="652"/>
<text class="k" y="657.6" font-size="11" letter-spacing="0.4"><tspan x="488.2" class="d" font-size="13" textLength="3" lengthAdjust="spacingAndGlyphs">(</tspan><tspan x="492">行程</tspan><tspan x="514.8" class="d" font-size="14.5" dy="0.4" textLength="5.2" lengthAdjust="spacingAndGlyphs">S</tspan><tspan x="520.3" class="d" font-size="13" dy="-0.4" textLength="3" lengthAdjust="spacingAndGlyphs">)</tspan></text>
<line class="t" x1="434" y1="674" x2="434" y2="703"/>
<line class="t" x1="216" y1="698.3" x2="476" y2="698.3"/>
<polygon class="a" points="216,698.3 224,697.2 224,699.4"/>
<polygon class="a" points="434,698.3 426,699.4 426,697.2"/>
<polygon class="a" points="434,698.3 442,697.2 442,699.4"/>
<polygon class="a" points="476,698.3 468,699.4 468,697.2"/>
<text class="d b" transform="translate(325 685.4) scale(0.46 1)" y="5.13" font-size="15.5" text-anchor="middle" >E</text>
<text class="d b" transform="translate(454.8 685.4) scale(0.46 1)" y="5.13" font-size="15.5" text-anchor="middle" >F</text>
<!-- view 4 -->
<line class="t" x1="303.2" y1="712" x2="303.2" y2="776"/>
<line class="t" x1="418.8" y1="712" x2="418.8" y2="776"/>
<line class="t" x1="303.2" y1="724.8" x2="418.8" y2="724.8"/>
<polygon class="a" points="303.2,724.8 311.2,723.7 311.2,725.9"/>
<polygon class="a" points="418.8,724.8 410.8,725.9 410.8,723.7"/>
<text class="d b" transform="translate(361 712) scale(0.46 1)" y="5.13" font-size="15.5" text-anchor="middle" >R</text>
<text class="d" x="352.5" y="741.5" font-size="18.5"><tspan textLength="8.6" lengthAdjust="spacingAndGlyphs">P</tspan><tspan class="k kb" font-size="12.3" dx="1.6" dy="-0.6">口</tspan></text>
<text class="d" transform="translate(251 735.5) scale(0.7 1)" font-size="12.5" text-anchor="start" letter-spacing="2">4-D</text>
<line class="t" x1="249" y1="743.2" x2="277" y2="743.2"/>
<line class="t" x1="277" y1="743.2" x2="316.5" y2="778.5"/>
<polygon class="a" points="297.2,761.1 292.88,758.42 294.09,757.09"/>
<polygon class="a" points="309.2,771.9 313.52,774.58 312.31,775.91"/>
<text class="d" transform="translate(478.6 741.3) scale(0.7 1)" font-size="12.5" text-anchor="start" letter-spacing="2">4-M</text>
<line class="t" x1="467" y1="748.8" x2="495.5" y2="748.8"/>
<line class="t" x1="467" y1="748.8" x2="385.2" y2="830.5"/>
<polygon class="a" points="385.2,830.5 388.1,826.33 389.37,827.6"/>
<polygon class="a" points="406.5,809.3 409.4,805.13 410.67,806.4"/>
<line class="t" x1="138.6" y1="751.6" x2="330" y2="751.6"/>
<line class="t" x1="138.6" y1="887.8" x2="330" y2="887.8"/>
<line class="t" x1="146.3" y1="751.6" x2="146.3" y2="887.8"/>
<polygon class="a" points="146.3,751.6 147.4,759.6 145.2,759.6"/>
<polygon class="a" points="146.3,887.8 145.2,879.8 147.4,879.8"/>
<text class="d b" transform="translate(134.3 820) rotate(-90) scale(0.46 1)" y="5.13" font-size="15.5" text-anchor="middle" >G</text>
<line class="t" x1="172.9" y1="766.5" x2="316" y2="766.5"/>
<line class="t" x1="172.9" y1="872.9" x2="316" y2="872.9"/>
<line class="t" x1="180.6" y1="766.5" x2="180.6" y2="872.9"/>
<polygon class="a" points="180.6,766.5 181.7,774.5 179.5,774.5"/>
<polygon class="a" points="180.6,872.9 179.5,864.9 181.7,864.9"/>
<text class="d b" transform="translate(169 820) rotate(-90) scale(0.46 1)" y="5.13" font-size="15.5" text-anchor="middle" >Q</text>
<line class="c" x1="207" y1="820" x2="550" y2="820"/>
<path class="o" d="M287,779 H254 L216,793 V846 L254,860.4 H287" />
<path class="o" d="M220,803 Q221,800 225,800 H274 Q279,799.8 279,794.5 V779" />
<path class="o" d="M220,836 Q221,839 225,839 H274 Q279,839.2 279,844.5 V860.4" />
<rect class="o" x="269" y="784.6" width="7" height="10" rx="1.2"/>
<line class="t2" x1="263" y1="789.6" x2="281" y2="789.6"/>
<rect class="o" x="269" y="845" width="7" height="10" rx="1.2"/>
<line class="t2" x1="263" y1="850" x2="281" y2="850"/>
<line class="o" x1="287" y1="779" x2="287" y2="860.4"/>
<path class="o" d="M287,779 Q290,778.5 290.2,774 V766.5 A13.2,13.2 0 0 1 303.4,753.2 H324 Q326.5,753 327.5,751.6" />
<path class="o" d="M435,779 Q432,778.5 431.8,774 V766.5 A13.2,13.2 0 0 0 418.6,753.2 H398 Q395.5,753 394.5,751.6" />
<path class="o" d="M287,779 H320.5 Q323.3,778.7 323.8,776.4" />
<path class="o" d="M435,779 H401.5 Q398.7,778.7 398.2,776.4" />
<circle class="o" cx="303.2" cy="766.5" r="8.4"/>
<circle class="o" cx="303.2" cy="766.5" r="5.3"/>
<circle class="t2" cx="303.2" cy="766.5" r="3.7"/>
<line class="t2" x1="291.2" y1="766.5" x2="315.2" y2="766.5"/>
<line class="t2" x1="303.2" y1="754.5" x2="303.2" y2="778.5"/>
<circle class="o" cx="418.8" cy="766.5" r="8.4"/>
<circle class="o" cx="418.8" cy="766.5" r="5.3"/>
<circle class="t2" cx="418.8" cy="766.5" r="3.7"/>
<line class="t2" x1="406.8" y1="766.5" x2="430.8" y2="766.5"/>
<line class="t2" x1="418.8" y1="754.5" x2="418.8" y2="778.5"/>
<path class="o" d="M322.5,785.5 Q327.3,785 327.5,780 V753.6 Q327.6,751.6 330,751.6 H392 Q394.4,751.6 394.5,753.6 V780 Q394.7,785 399.5,785.5" />
<path class="o" d="M331.5,785.5 Q335.5,785 335.5,780.5 V777 Q335.8,772.5 340,772.5 H382 Q386.2,772.5 386.5,777 V780.5 Q386.5,785 390.5,785.5" />
<clipPath id="c4la"><path d="M332.5,751.6 H345 V765.6 Q334,762.6 332.5,751.6 Z"/></clipPath>
<clipPath id="c4ra"><path d="M389.5,751.6 H377 V765.6 Q388,762.6 389.5,751.6 Z"/></clipPath>
<g clip-path="url(#c4la)">
<line class="h" x1="317" y1="765.6" x2="331" y2="751.6"/>
<line class="h" x1="320.3" y1="765.6" x2="334.3" y2="751.6"/>
<line class="h" x1="323.6" y1="765.6" x2="337.6" y2="751.6"/>
<line class="h" x1="326.9" y1="765.6" x2="340.9" y2="751.6"/>
<line class="h" x1="330.2" y1="765.6" x2="344.2" y2="751.6"/>
<line class="h" x1="333.5" y1="765.6" x2="347.5" y2="751.6"/>
<line class="h" x1="336.8" y1="765.6" x2="350.8" y2="751.6"/>
<line class="h" x1="340.1" y1="765.6" x2="354.1" y2="751.6"/>
<line class="h" x1="343.4" y1="765.6" x2="357.4" y2="751.6"/>
</g>
<g clip-path="url(#c4ra)">
<line class="h" x1="362" y1="765.6" x2="376" y2="751.6"/>
<line class="h" x1="365.3" y1="765.6" x2="379.3" y2="751.6"/>
<line class="h" x1="368.6" y1="765.6" x2="382.6" y2="751.6"/>
<line class="h" x1="371.9" y1="765.6" x2="385.9" y2="751.6"/>
<line class="h" x1="375.2" y1="765.6" x2="389.2" y2="751.6"/>
<line class="h" x1="378.5" y1="765.6" x2="392.5" y2="751.6"/>
<line class="h" x1="381.8" y1="765.6" x2="395.8" y2="751.6"/>
<line class="h" x1="385.1" y1="765.6" x2="399.1" y2="751.6"/>
<line class="h" x1="388.4" y1="765.6" x2="402.4" y2="751.6"/>
</g>
<path class="o" d="M332.5,751.6 Q334,762.6 345,765.6 M389.5,751.6 Q388,762.6 377,765.6" />
<path class="o" d="M345,751.6 V765.6 M377,751.6 V765.6" />
<path class="o2" d="M345,765.6 Q361,767 377,765.6" />
<path class="o" d="M345,754.6 H377" />
<line class="c2" x1="361" y1="745.6" x2="361" y2="771.5"/>
<path class="o" d="M287,860.4 Q290,860.9 290.2,865.4 V872.9 A13.2,13.2 0 0 0 303.4,886.2 H324 Q326.5,886.4 327.5,887.8" />
<path class="o" d="M435,860.4 Q432,860.9 431.8,865.4 V872.9 A13.2,13.2 0 0 1 418.6,886.2 H398 Q395.5,886.4 394.5,887.8" />
<path class="o" d="M287,860.4 H320.5 Q323.3,860.7 323.8,863" />
<path class="o" d="M435,860.4 H401.5 Q398.7,860.7 398.2,863" />
<circle class="o" cx="303.2" cy="872.9" r="8.4"/>
<circle class="o" cx="303.2" cy="872.9" r="5.3"/>
<circle class="t2" cx="303.2" cy="872.9" r="3.7"/>
<line class="t2" x1="291.2" y1="872.9" x2="315.2" y2="872.9"/>
<line class="t2" x1="303.2" y1="860.9" x2="303.2" y2="884.9"/>
<circle class="o" cx="418.8" cy="872.9" r="8.4"/>
<circle class="o" cx="418.8" cy="872.9" r="5.3"/>
<circle class="t2" cx="418.8" cy="872.9" r="3.7"/>
<line class="t2" x1="406.8" y1="872.9" x2="430.8" y2="872.9"/>
<line class="t2" x1="418.8" y1="860.9" x2="418.8" y2="884.9"/>
<path class="o" d="M322.5,854.4 Q327.3,854.9 327.5,859.9 V885.8 Q327.6,887.8 330,887.8 H392 Q394.4,887.8 394.5,885.8 V859.9 Q394.7,854.9 399.5,854.4" />
<path class="o" d="M331.5,854.4 Q335.5,854.9 335.5,859.4 V862.9 Q335.8,867.4 340,867.4 H382 Q386.2,867.4 386.5,862.9 V859.4 Q386.5,854.9 390.5,854.4" />
<clipPath id="c4lb"><path d="M332.5,887.8 H345 V873.8 Q334,876.8 332.5,887.8 Z"/></clipPath>
<clipPath id="c4rb"><path d="M389.5,887.8 H377 V873.8 Q388,876.8 389.5,887.8 Z"/></clipPath>
<g clip-path="url(#c4lb)">
<line class="h" x1="317" y1="887.8" x2="331" y2="873.8"/>
<line class="h" x1="320.3" y1="887.8" x2="334.3" y2="873.8"/>
<line class="h" x1="323.6" y1="887.8" x2="337.6" y2="873.8"/>
<line class="h" x1="326.9" y1="887.8" x2="340.9" y2="873.8"/>
<line class="h" x1="330.2" y1="887.8" x2="344.2" y2="873.8"/>
<line class="h" x1="333.5" y1="887.8" x2="347.5" y2="873.8"/>
<line class="h" x1="336.8" y1="887.8" x2="350.8" y2="873.8"/>
<line class="h" x1="340.1" y1="887.8" x2="354.1" y2="873.8"/>
<line class="h" x1="343.4" y1="887.8" x2="357.4" y2="873.8"/>
</g>
<g clip-path="url(#c4rb)">
<line class="h" x1="362" y1="887.8" x2="376" y2="873.8"/>
<line class="h" x1="365.3" y1="887.8" x2="379.3" y2="873.8"/>
<line class="h" x1="368.6" y1="887.8" x2="382.6" y2="873.8"/>
<line class="h" x1="371.9" y1="887.8" x2="385.9" y2="873.8"/>
<line class="h" x1="375.2" y1="887.8" x2="389.2" y2="873.8"/>
<line class="h" x1="378.5" y1="887.8" x2="392.5" y2="873.8"/>
<line class="h" x1="381.8" y1="887.8" x2="395.8" y2="873.8"/>
<line class="h" x1="385.1" y1="887.8" x2="399.1" y2="873.8"/>
<line class="h" x1="388.4" y1="887.8" x2="402.4" y2="873.8"/>
</g>
<path class="o" d="M332.5,887.8 Q334,876.8 345,873.8 M389.5,887.8 Q388,876.8 377,873.8" />
<path class="o" d="M345,887.8 V873.8 M377,887.8 V873.8" />
<path class="o2" d="M345,873.8 Q361,872.4 377,873.8" />
<path class="o" d="M345,884.8 H377" />
<line class="c2" x1="361" y1="893.8" x2="361" y2="868.4"/>
<line class="o" x1="435" y1="779" x2="435" y2="860.4"/>
<rect class="o" x="292.4" y="785.5" width="137.2" height="68.9" rx="4.5"/>
<circle class="o" cx="326.6" cy="820" r="15"/>
<line class="c2" x1="326.6" y1="797" x2="326.6" y2="844"/>
<circle class="o" cx="395.6" cy="820" r="15"/>
<line class="c2" x1="395.6" y1="797" x2="395.6" y2="844"/>
<path class="t2" d="M344.1,820 A17.5,17.5 0 1 0 326.6,837.5" />
<path class="t2" d="M395.6,802.5 A17.5,17.5 0 1 0 413.1,820" />
<path class="o" d="M333,806.5 V833.5" />
<path class="o" d="M388,806.5 V833.5" />
<path class="t2" d="M334.6,807.3 V832.7" />
<text class="d" x="295.8" y="849" font-size="18.5"><tspan textLength="8.6" lengthAdjust="spacingAndGlyphs">A</tspan><tspan class="k kb" font-size="12.3" dx="1.6" dy="-0.6">口</tspan></text>
<text class="d" x="404.2" y="849" font-size="18.5"><tspan textLength="8.6" lengthAdjust="spacingAndGlyphs">B</tspan><tspan class="k kb" font-size="12.3" dx="1.6" dy="-0.6">口</tspan></text>
<text class="d" x="357" y="910" font-size="18.5"><tspan textLength="8.6" lengthAdjust="spacingAndGlyphs">T</tspan><tspan class="k kb" font-size="12.3" dx="1.6" dy="-0.6">口</tspan></text>
<path class="o" d="M435,779 H452 Q456.4,779.6 456.4,784 V794 Q456.8,800 461,800.4 H470" />
<path class="o" d="M446,780 V792 Q447,799 454,800.6 L458,801" />
<rect class="o" x="447.4" y="784.2" width="6.6" height="10.8" rx="1.2"/>
<line class="t2" x1="441" y1="789.6" x2="460" y2="789.6"/>
<path class="o" d="M435,860.4 H452 Q456.4,859.8 456.4,855.4 V845.4 Q456.8,839.4 461,839 H470" />
<path class="o" d="M446,859.4 V847.4 Q447,840.4 454,838.8 L458,838.4" />
<rect class="o" x="447.4" y="844.4" width="6.6" height="10.8" rx="1.2"/>
<line class="t2" x1="441" y1="849.8" x2="460" y2="849.8"/>
<path class="o" d="M470,800.4 H480 Q485.5,802 486,810 V830 Q485.5,838 480,839.6 H470" />
<path class="o" d="M470,800.4 V810.4 M470,829 V839.6" />
<path class="o" d="M458.4,810.4 H472 V829 H458.4 Z" />
<path class="o2" d="M464,810.4 V815.6 H458.4 M464,829 V823.8 H458.4 M469,810.4 V829" />
<line class="c2" x1="477" y1="786" x2="477" y2="853"/>
<path class="ob" d="M470,799 H483 M470,841 H483" />
<rect class="o" x="472.5" y="791.5" width="9" height="7.5" rx="2"/>
<rect class="o" x="472.5" y="841" width="9" height="7.5" rx="2"/>
<path class="t2" d="M474.8,791.5 V799 M479.2,791.5 V799 M474.8,841 V848.5 M479.2,841 V848.5" />
<path class="o" d="M491,814.4 H477.5 A5.6,5.6 0 0 0 477.5,825.6 H491" />
<path class="o2" d="M491,814.4 Q492.5,817 491,820 Q489.5,823 491,825.6" />
<path class="o" d="M497.5,814.6 H511 M497.5,825.4 H511" />
<ellipse class="o2" cx="497.5" cy="820" rx="1.6" ry="5.4"/>
<circle class="o" cx="528" cy="820" r="17.5"/>
<line class="c2" x1="528" y1="798" x2="528" y2="842"/>
<!-- table -->
<rect x="9" y="915.3" width="681" height="86.5" fill="none" stroke="#333" stroke-width="1.3"/>
<line class="tb" x1="113.6" y1="915.3" x2="113.6" y2="1001.8"/>
<line class="tb" x1="150" y1="915.3" x2="150" y2="1001.8"/>
<line class="tb" x1="187.5" y1="915.3" x2="187.5" y2="1001.8"/>
<line class="tb" x1="224.3" y1="915.3" x2="224.3" y2="1001.8"/>
<line class="tb" x1="261.4" y1="915.3" x2="261.4" y2="1001.8"/>
<line class="tb" x1="298.6" y1="915.3" x2="298.6" y2="1001.8"/>
<line class="tb" x1="335.4" y1="915.3" x2="335.4" y2="1001.8"/>
<line class="tb" x1="372.9" y1="915.3" x2="372.9" y2="1001.8"/>
<line class="tb" x1="410.4" y1="915.3" x2="410.4" y2="1001.8"/>
<line class="tb" x1="447.1" y1="915.3" x2="447.1" y2="1001.8"/>
<line class="tb" x1="484" y1="915.3" x2="484" y2="1001.8"/>
<line class="tb" x1="545.7" y1="915.3" x2="545.7" y2="1001.8"/>
<line class="tb" x1="582.9" y1="915.3" x2="582.9" y2="1001.8"/>
<line class="tb" x1="620.7" y1="915.3" x2="620.7" y2="1001.8"/>
<line class="tb" x1="657" y1="915.3" x2="657" y2="1001.8"/>
<line class="tb" x1="9" y1="944.6" x2="690" y2="944.6"/>
<line class="tb" x1="9" y1="973.2" x2="690" y2="973.2"/>
<text class="d" transform="translate(131.8 937.3) scale(0.66 1)" font-size="18" text-anchor="middle" >C</text>
<text class="d" transform="translate(0 965.3) scale(0.76 1)" font-size="17.5" text-anchor="middle" ><tspan x="160.66 173.42 186.18">320</tspan></text>
<text class="d" transform="translate(0 993.8) scale(0.76 1)" font-size="17.5" text-anchor="middle" ><tspan x="160.66 173.42 186.18">402</tspan></text>
<text class="d" transform="translate(168.75 937.3) scale(0.66 1)" font-size="18" text-anchor="middle" >D</text>
<text class="d" transform="translate(0 965.3) scale(0.76 1)" font-size="17.5" text-anchor="middle" ><tspan x="209.28" font-size="19" dy="0.5">φ</tspan><tspan x="222.04 234.8" dy="-0.5">11</tspan></text>
<text class="d" transform="translate(0 993.8) scale(0.76 1)" font-size="17.5" text-anchor="middle" ><tspan x="209.28" font-size="19" dy="0.5">φ</tspan><tspan x="222.04 234.8" dy="-0.5">13</tspan></text>
<text class="d" transform="translate(205.9 937.3) scale(0.66 1)" font-size="18" text-anchor="middle" >E</text>
<text class="d" transform="translate(0 965.3) scale(0.76 1)" font-size="17.5" text-anchor="middle" ><tspan x="258.16 270.92 283.68">202</tspan></text>
<text class="d" transform="translate(0 993.8) scale(0.76 1)" font-size="17.5" text-anchor="middle" ><tspan x="258.16 270.92 283.68">258</tspan></text>
<text class="d" transform="translate(242.85 937.3) scale(0.66 1)" font-size="18" text-anchor="middle" >F</text>
<text class="d" transform="translate(0 965.3) scale(0.76 1)" font-size="17.5" text-anchor="middle" ><tspan x="313.16 325.92">42</tspan></text>
<text class="d" transform="translate(0 993.8) scale(0.76 1)" font-size="17.5" text-anchor="middle" ><tspan x="313.16 325.92">50</tspan></text>
<text class="d" transform="translate(280 937.3) scale(0.66 1)" font-size="18" text-anchor="middle" >G</text>
<text class="d" transform="translate(0 965.3) scale(0.76 1)" font-size="17.5" text-anchor="middle" ><tspan x="358.68 368.42 378.16">126</tspan></text>
<text class="d" transform="translate(0 993.8) scale(0.76 1)" font-size="17.5" text-anchor="middle" ><tspan x="358.68 368.42 378.16">160</tspan></text>
<text class="d" transform="translate(317 937.3) scale(0.66 1)" font-size="18" text-anchor="middle" >H</text>
<text class="d" transform="translate(0 965.3) scale(0.76 1)" font-size="17.5" text-anchor="middle" ><tspan x="407.5 417.11 426.71">100</tspan></text>
<text class="d" transform="translate(0 993.8) scale(0.76 1)" font-size="17.5" text-anchor="middle" ><tspan x="407.5 417.11 426.71">120</tspan></text>
<text class="d" transform="translate(0 937.3) scale(0.66 1)" font-size="18" text-anchor="middle" ><tspan x="534.32">H</tspan><tspan x="543.71" font-size="10" dy="2.5">1</tspan></text>
<text class="d" transform="translate(0 965.3) scale(0.76 1)" font-size="17.5" text-anchor="middle" ><tspan x="461.45 470.53">65</tspan></text>
<text class="d" transform="translate(0 993.8) scale(0.76 1)" font-size="17.5" text-anchor="middle" ><tspan x="461.45 470.53">80</tspan></text>
<text class="d" transform="translate(391.65 937.3) scale(0.66 1)" font-size="18" text-anchor="middle" >J</text>
<text class="d" transform="translate(0 965.3) scale(0.76 1)" font-size="17.5" text-anchor="middle" ><tspan x="508.95 521.71">40</tspan></text>
<text class="d" transform="translate(0 993.8) scale(0.76 1)" font-size="17.5" text-anchor="middle" ><tspan x="508.95 521.71">50</tspan></text>
<text class="d" transform="translate(428.75 937.3) scale(0.66 1)" font-size="18" text-anchor="middle" >K</text>
<text class="d" transform="translate(0 965.3) scale(0.76 1)" font-size="17.5" text-anchor="middle" ><tspan x="557.76 570.53">25</tspan></text>
<text class="d" transform="translate(0 993.8) scale(0.76 1)" font-size="17.5" text-anchor="middle" ><tspan x="557.76 570.53">35</tspan></text>
<text class="d" transform="translate(465.55 937.3) scale(0.66 1)" font-size="18" text-anchor="middle" >L</text>
<text class="d" transform="translate(0 965.3) scale(0.76 1)" font-size="17.5" text-anchor="middle" ><tspan x="599.8 612.57 625.33">250</tspan></text>
<text class="d" transform="translate(0 993.8) scale(0.76 1)" font-size="17.5" text-anchor="middle" ><tspan x="599.8 612.57 625.33">300</tspan></text>
<text class="d" transform="translate(514.85 937.3) scale(0.66 1)" font-size="18" text-anchor="middle" >M</text>
<text class="d" transform="translate(0 965.3) scale(0.76 1)" font-size="17.5" text-anchor="middle" ><tspan x="652.17 664.8 677.43 690.07 702.7">M27X2</tspan></text>
<text class="d" transform="translate(0 993.8) scale(0.76 1)" font-size="17.5" text-anchor="middle" ><tspan x="652.17 664.8 677.43 690.07 702.7">M42X2</tspan></text>
<text class="d" transform="translate(564.3 937.3) scale(0.66 1)" font-size="18" text-anchor="middle" >Q</text>
<text class="d" transform="translate(0 965.3) scale(0.76 1)" font-size="17.5" text-anchor="middle" ><tspan x="736.12 748.88">95</tspan></text>
<text class="d" transform="translate(0 993.8) scale(0.76 1)" font-size="17.5" text-anchor="middle" ><tspan x="729.74 742.5 755.26">125</tspan></text>
<text class="d" transform="translate(601.8 937.3) scale(0.66 1)" font-size="18" text-anchor="middle" >R</text>
<text class="d" transform="translate(0 965.3) scale(0.76 1)" font-size="17.5" text-anchor="middle" ><tspan x="779.08 791.84 804.61">100</tspan></text>
<text class="d" transform="translate(0 993.8) scale(0.76 1)" font-size="17.5" text-anchor="middle" ><tspan x="779.08 791.84 804.61">132</tspan></text>
<text class="d" transform="translate(638.85 937.3) scale(0.66 1)" font-size="18" text-anchor="middle" >S</text>
<text class="d" transform="translate(0 965.3) scale(0.76 1)" font-size="17.5" text-anchor="middle" ><tspan x="834.21 846.97">18</tspan></text>
<text class="d" transform="translate(0 993.8) scale(0.76 1)" font-size="17.5" text-anchor="middle" ><tspan x="834.21 846.97">25</tspan></text>
<text class="d" transform="translate(673.5 937.3) scale(0.66 1)" font-size="18" text-anchor="middle" >X</text>
<text class="d" transform="translate(0 965.3) scale(0.76 1)" font-size="17.5" text-anchor="middle" ><tspan x="879.8 892.57">67</tspan></text>
<text class="d" transform="translate(0 993.8) scale(0.76 1)" font-size="17.5" text-anchor="middle" ><tspan x="879.8 892.57">80</tspan></text>
<text class="k" x="42 79" y="937" font-size="13.5" text-anchor="middle">型号</text>
<text class="d" transform="translate(16.8 956.9) scale(0.75 1)" font-size="8" text-anchor="middle" font-weight="bold">2</text>
<text class="d" transform="translate(16.8 966.7) scale(0.75 1)" font-size="8" text-anchor="middle" font-weight="bold">3</text>
<text class="d" transform="translate(0 965.3) scale(0.76 1)" font-size="17.5" text-anchor="middle" ><tspan x="32.37 42.76">4S</tspan><tspan x="58.95" class="k kb" font-size="16.5" dy="-0.5">※</tspan><tspan x="75" dy="-0.1" textLength="10.53" lengthAdjust="spacingAndGlyphs">-</tspan><tspan x="86.45 97.37 108.55 119.74" dy="0.6">L20H</tspan><tspan x="131.05" dy="-0.6" textLength="9.87" lengthAdjust="spacingAndGlyphs">-</tspan></text>
<text class="d" transform="translate(106.3 956.9) scale(0.75 1)" font-size="8" text-anchor="middle" font-weight="bold">T</text>
<text class="d" transform="translate(106.3 966.7) scale(0.6 1)" font-size="7.5" text-anchor="middle" font-weight="bold">W</text>
<line class="t" x1="104" y1="958.2" x2="108.8" y2="958.2"/>
<text class="d" transform="translate(16.8 985.4) scale(0.75 1)" font-size="8" text-anchor="middle" font-weight="bold">2</text>
<text class="d" transform="translate(16.8 995.2) scale(0.75 1)" font-size="8" text-anchor="middle" font-weight="bold">3</text>
<text class="d" transform="translate(0 993.8) scale(0.76 1)" font-size="17.5" text-anchor="middle" ><tspan x="32.37 42.76">4S</tspan><tspan x="58.95" class="k kb" font-size="16.5" dy="-0.5">※</tspan><tspan x="75" dy="-0.1" textLength="10.53" lengthAdjust="spacingAndGlyphs">-</tspan><tspan x="86.45 97.37 108.55 119.74" dy="0.6">L20H</tspan><tspan x="131.05" dy="-0.6" textLength="9.87" lengthAdjust="spacingAndGlyphs">-</tspan></text>
<text class="d" transform="translate(106.3 985.4) scale(0.75 1)" font-size="8" text-anchor="middle" font-weight="bold">T</text>
<text class="d" transform="translate(106.3 995.2) scale(0.6 1)" font-size="7.5" text-anchor="middle" font-weight="bold">W</text>
<line class="t" x1="104" y1="986.7" x2="108.8" y2="986.7"/>
</svg>
</body></html>
